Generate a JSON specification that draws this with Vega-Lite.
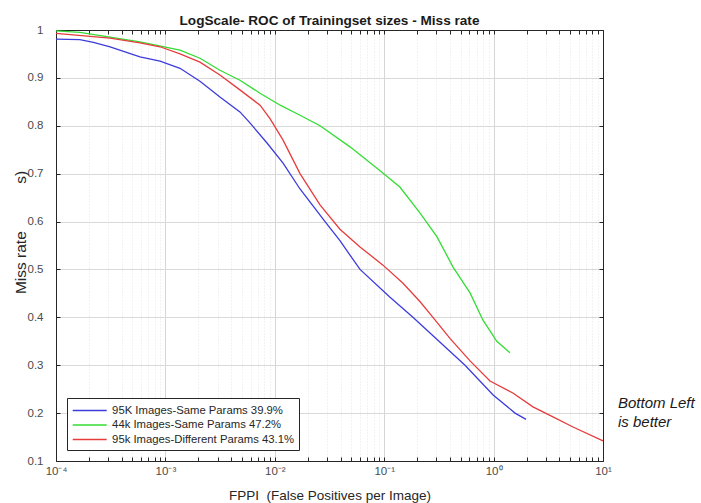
{
  "$schema": "https://vega.github.io/schema/vega-lite/v6.json",
  "width": 547,
  "height": 431,
  "autosize": {"type": "none"},
  "padding": {"left": 56, "top": 30, "right": 98, "bottom": 42},
  "background": "white",
  "title": {
    "text": "LogScale- ROC of Trainingset sizes - Miss rate",
    "fontSize": 13.6,
    "fontWeight": "bold",
    "color": "#1a1a1a",
    "anchor": "middle",
    "baseline": "alphabetic",
    "offset": 5.5,
    "dy": 20.5
  },
  "config": {
    "font": "Liberation Sans",
    "view": {"stroke": "#262626", "strokeWidth": 1},
    "legend": {
      "orient": "bottom-left",
      "offset": 11,
      "symbolType": "M-2.5,0H2.5",
      "symbolSize": 185,
      "symbolOffset": 10.2,
      "symbolStrokeWidth": 1.5,
      "symbolFillColor": "transparent",
      "labelFontSize": 11.3,
      "labelColor": "#262626",
      "strokeColor": "#262626",
      "fillColor": "white",
      "padding": 4.5,
      "rowPadding": 0.5,
      "labelOffset": 14.4,
      "labelLimit": 400
    }
  },
  "datasets": {
    "roc": [
      {"s": "95K Images-Same Params 39.9%", "fppi": 0.0001, "mr": 0.981},
      {"s": "95K Images-Same Params 39.9%", "fppi": 0.000165, "mr": 0.98},
      {"s": "95K Images-Same Params 39.9%", "fppi": 0.00022, "mr": 0.974},
      {"s": "95K Images-Same Params 39.9%", "fppi": 0.000312, "mr": 0.965},
      {"s": "95K Images-Same Params 39.9%", "fppi": 0.000586, "mr": 0.944},
      {"s": "95K Images-Same Params 39.9%", "fppi": 0.000893, "mr": 0.935},
      {"s": "95K Images-Same Params 39.9%", "fppi": 0.00136, "mr": 0.92},
      {"s": "95K Images-Same Params 39.9%", "fppi": 0.00207, "mr": 0.893},
      {"s": "95K Images-Same Params 39.9%", "fppi": 0.00315, "mr": 0.86},
      {"s": "95K Images-Same Params 39.9%", "fppi": 0.0048, "mr": 0.829},
      {"s": "95K Images-Same Params 39.9%", "fppi": 0.00593, "mr": 0.806},
      {"s": "95K Images-Same Params 39.9%", "fppi": 0.00849, "mr": 0.764},
      {"s": "95K Images-Same Params 39.9%", "fppi": 0.0119, "mr": 0.722},
      {"s": "95K Images-Same Params 39.9%", "fppi": 0.017, "mr": 0.668},
      {"s": "95K Images-Same Params 39.9%", "fppi": 0.0288, "mr": 0.6},
      {"s": "95K Images-Same Params 39.9%", "fppi": 0.0394, "mr": 0.56},
      {"s": "95K Images-Same Params 39.9%", "fppi": 0.0601, "mr": 0.5},
      {"s": "95K Images-Same Params 39.9%", "fppi": 0.113, "mr": 0.442},
      {"s": "95K Images-Same Params 39.9%", "fppi": 0.183, "mr": 0.4},
      {"s": "95K Images-Same Params 39.9%", "fppi": 0.324, "mr": 0.348},
      {"s": "95K Images-Same Params 39.9%", "fppi": 0.548, "mr": 0.3},
      {"s": "95K Images-Same Params 39.9%", "fppi": 0.99, "mr": 0.238},
      {"s": "95K Images-Same Params 39.9%", "fppi": 1.57, "mr": 0.2},
      {"s": "95K Images-Same Params 39.9%", "fppi": 1.98, "mr": 0.187},
      {"s": "44k Images-Same Params 47.2%", "fppi": 0.0001, "mr": 0.998},
      {"s": "44k Images-Same Params 47.2%", "fppi": 0.000165, "mr": 0.995},
      {"s": "44k Images-Same Params 47.2%", "fppi": 0.000312, "mr": 0.985},
      {"s": "44k Images-Same Params 47.2%", "fppi": 0.000586, "mr": 0.975},
      {"s": "44k Images-Same Params 47.2%", "fppi": 0.00136, "mr": 0.958},
      {"s": "44k Images-Same Params 47.2%", "fppi": 0.00207, "mr": 0.941},
      {"s": "44k Images-Same Params 47.2%", "fppi": 0.00315, "mr": 0.916},
      {"s": "44k Images-Same Params 47.2%", "fppi": 0.0048, "mr": 0.895},
      {"s": "44k Images-Same Params 47.2%", "fppi": 0.00733, "mr": 0.868},
      {"s": "44k Images-Same Params 47.2%", "fppi": 0.0112, "mr": 0.843},
      {"s": "44k Images-Same Params 47.2%", "fppi": 0.017, "mr": 0.822},
      {"s": "44k Images-Same Params 47.2%", "fppi": 0.0259, "mr": 0.8},
      {"s": "44k Images-Same Params 47.2%", "fppi": 0.0487, "mr": 0.756},
      {"s": "44k Images-Same Params 47.2%", "fppi": 0.0917, "mr": 0.706},
      {"s": "44k Images-Same Params 47.2%", "fppi": 0.139, "mr": 0.672},
      {"s": "44k Images-Same Params 47.2%", "fppi": 0.212, "mr": 0.618},
      {"s": "44k Images-Same Params 47.2%", "fppi": 0.304, "mr": 0.568},
      {"s": "44k Images-Same Params 47.2%", "fppi": 0.426, "mr": 0.505},
      {"s": "44k Images-Same Params 47.2%", "fppi": 0.609, "mr": 0.451},
      {"s": "44k Images-Same Params 47.2%", "fppi": 0.8, "mr": 0.394},
      {"s": "44k Images-Same Params 47.2%", "fppi": 1.07, "mr": 0.35},
      {"s": "44k Images-Same Params 47.2%", "fppi": 1.41, "mr": 0.326},
      {"s": "95k Images-Different Params 43.1%", "fppi": 0.0001, "mr": 0.993},
      {"s": "95k Images-Different Params 43.1%", "fppi": 0.000312, "mr": 0.983},
      {"s": "95k Images-Different Params 43.1%", "fppi": 0.000586, "mr": 0.973},
      {"s": "95k Images-Different Params 43.1%", "fppi": 0.000893, "mr": 0.965},
      {"s": "95k Images-Different Params 43.1%", "fppi": 0.00136, "mr": 0.95},
      {"s": "95k Images-Different Params 43.1%", "fppi": 0.00207, "mr": 0.933},
      {"s": "95k Images-Different Params 43.1%", "fppi": 0.00315, "mr": 0.906},
      {"s": "95k Images-Different Params 43.1%", "fppi": 0.0048, "mr": 0.875},
      {"s": "95k Images-Different Params 43.1%", "fppi": 0.00733, "mr": 0.843},
      {"s": "95k Images-Different Params 43.1%", "fppi": 0.00904, "mr": 0.815},
      {"s": "95k Images-Different Params 43.1%", "fppi": 0.0119, "mr": 0.77},
      {"s": "95k Images-Different Params 43.1%", "fppi": 0.017, "mr": 0.7},
      {"s": "95k Images-Different Params 43.1%", "fppi": 0.0259, "mr": 0.635},
      {"s": "95k Images-Different Params 43.1%", "fppi": 0.0394, "mr": 0.584},
      {"s": "95k Images-Different Params 43.1%", "fppi": 0.0601, "mr": 0.547},
      {"s": "95k Images-Different Params 43.1%", "fppi": 0.0975, "mr": 0.509},
      {"s": "95k Images-Different Params 43.1%", "fppi": 0.1486, "mr": 0.471},
      {"s": "95k Images-Different Params 43.1%", "fppi": 0.212, "mr": 0.433},
      {"s": "95k Images-Different Params 43.1%", "fppi": 0.279, "mr": 0.4},
      {"s": "95k Images-Different Params 43.1%", "fppi": 0.399, "mr": 0.356},
      {"s": "95k Images-Different Params 43.1%", "fppi": 0.609, "mr": 0.309},
      {"s": "95k Images-Different Params 43.1%", "fppi": 0.927, "mr": 0.267},
      {"s": "95k Images-Different Params 43.1%", "fppi": 1.5, "mr": 0.242},
      {"s": "95k Images-Different Params 43.1%", "fppi": 2.29, "mr": 0.213},
      {"s": "95k Images-Different Params 43.1%", "fppi": 3.49, "mr": 0.192},
      {"s": "95k Images-Different Params 43.1%", "fppi": 5.32, "mr": 0.171},
      {"s": "95k Images-Different Params 43.1%", "fppi": 10, "mr": 0.142}
    ],
    "note": [
      {"fppi": 13.7, "mr": 0.2107, "label": "Bottom Left"},
      {"fppi": 13.7, "mr": 0.171, "label": "is better"}
    ]
  },
  "layer": [
    {
      "data": {"name": "roc"},
      "mark": {"type": "line", "strokeWidth": 1.3},
      "encoding": {
        "x": {
          "field": "fppi",
          "type": "quantitative",
          "scale": {"type": "log", "domain": [0.0001, 10], "nice": false},
          "axis": {
            "orient": "bottom",
            "values": [0.0001, 0.0002, 0.0003, 0.0004, 0.0005, 0.0006, 0.0007, 0.0008, 0.0009, 0.001, 0.002, 0.003, 0.004, 0.005, 0.006, 0.007, 0.008, 0.009, 0.01, 0.02, 0.03, 0.04, 0.05, 0.06, 0.07, 0.08, 0.09, 0.1, 0.2, 0.3, 0.4, 0.5, 0.6, 0.7, 0.8, 0.9, 1, 2, 3, 4, 5, 6, 7, 8, 9, 10],
            "labelExpr": "abs(log(datum.value)/LN10 - round(log(datum.value)/LN10)) < 0.001 ? ['10⁻⁴','10⁻³','10⁻²','10⁻¹','10⁰','10¹'][round(log(datum.value)/LN10)+4] : ''",
            "labelOverlap": false,
            "labelFlush": false,
            "labelFontSize": 11.5,
            "labelColor": "#4a4a4a",
            "labelPadding": 8,
            "grid": true,
            "gridColor": {"condition": {"test": "abs(log(datum.value)/LN10 - round(log(datum.value)/LN10)) < 0.001", "value": "#d6d6d6"}, "value": "#e6e6e6"},
            "gridDash": {"condition": {"test": "abs(log(datum.value)/LN10 - round(log(datum.value)/LN10)) < 0.001", "value": []}, "value": [1, 2]},
            "tickSize": -4,
            "tickColor": "#262626",
            "domainColor": "#262626",
            "title": "FPPI\u00a0 (False Positives per Image)",
            "titleFontSize": 13.5,
            "titleFontWeight": "normal",
            "titleColor": "#262626",
            "titleBaseline": "alphabetic",
            "titleY": 38
          }
        },
        "y": {
          "field": "mr",
          "type": "quantitative",
          "scale": {"domain": [0.1, 1], "nice": false, "zero": false},
          "axis": {
            "orient": "left",
            "values": [0.1, 0.2, 0.3, 0.4, 0.5, 0.6, 0.7, 0.8, 0.9, 1],
            "format": ".1~f",
            "labelFlush": false,
            "labelOverlap": false,
            "labelFontSize": 11.5,
            "labelColor": "#4a4a4a",
            "labelPadding": 17,
            "grid": true,
            "gridColor": "#d9d9d9",
            "tickSize": -4,
            "tickColor": "#262626",
            "domainColor": "#262626",
            "title": "Miss rate\u00a0\u00a0\u00a0\u00a0\u00a0\u00a0\u00a0\u00a0\u00a0\u00a0\u00a0s)",
            "titleFontSize": 15.5,
            "titleFontWeight": "normal",
            "titleColor": "#262626",
            "titleAngle": -90,
            "titleAlign": "center",
            "titleBaseline": "middle",
            "titleX": -36,
            "titleY": 202
          }
        },
        "color": {
          "field": "s",
          "type": "nominal",
          "sort": ["95K Images-Same Params 39.9%", "44k Images-Same Params 47.2%", "95k Images-Different Params 43.1%"],
          "scale": {
            "domain": ["95K Images-Same Params 39.9%", "44k Images-Same Params 47.2%", "95k Images-Different Params 43.1%"],
            "range": ["#3c3cdc", "#33dd33", "#e63c3c"]
          },
          "legend": {"title": null}
        }
      }
    },
    {
      "data": {"name": "roc"},
      "mark": {"type": "line", "opacity": 0},
      "encoding": {
        "x": {
          "field": "fppi",
          "type": "quantitative",
          "axis": {
            "orient": "top",
            "values": [0.0001, 0.0002, 0.0003, 0.0004, 0.0005, 0.0006, 0.0007, 0.0008, 0.0009, 0.001, 0.002, 0.003, 0.004, 0.005, 0.006, 0.007, 0.008, 0.009, 0.01, 0.02, 0.03, 0.04, 0.05, 0.06, 0.07, 0.08, 0.09, 0.1, 0.2, 0.3, 0.4, 0.5, 0.6, 0.7, 0.8, 0.9, 1, 2, 3, 4, 5, 6, 7, 8, 9, 10],
            "labels": false,
            "grid": false,
            "title": null,
            "tickSize": -4,
            "tickColor": "#262626",
            "domainColor": "#262626",
            "minExtent": 0,
            "maxExtent": 0
          }
        },
        "y": {
          "field": "mr",
          "type": "quantitative",
          "axis": {
            "orient": "right",
            "values": [0.1, 0.2, 0.3, 0.4, 0.5, 0.6, 0.7, 0.8, 0.9, 1],
            "labels": false,
            "grid": false,
            "title": null,
            "tickSize": -4,
            "tickColor": "#262626",
            "domainColor": "#262626",
            "minExtent": 0,
            "maxExtent": 0
          }
        },
        "detail": {"field": "s", "type": "nominal"}
      }
    },
    {
      "data": {"name": "note"},
      "mark": {"type": "text", "align": "left", "baseline": "alphabetic", "fontSize": 15, "fontStyle": "italic", "color": "#1a1a1a"},
      "encoding": {
        "x": {"field": "fppi", "type": "quantitative", "axis": null},
        "y": {"field": "mr", "type": "quantitative", "axis": null},
        "text": {"field": "label", "type": "nominal"}
      }
    }
  ],
  "resolve": {"axis": {"x": "independent", "y": "independent"}}
}
